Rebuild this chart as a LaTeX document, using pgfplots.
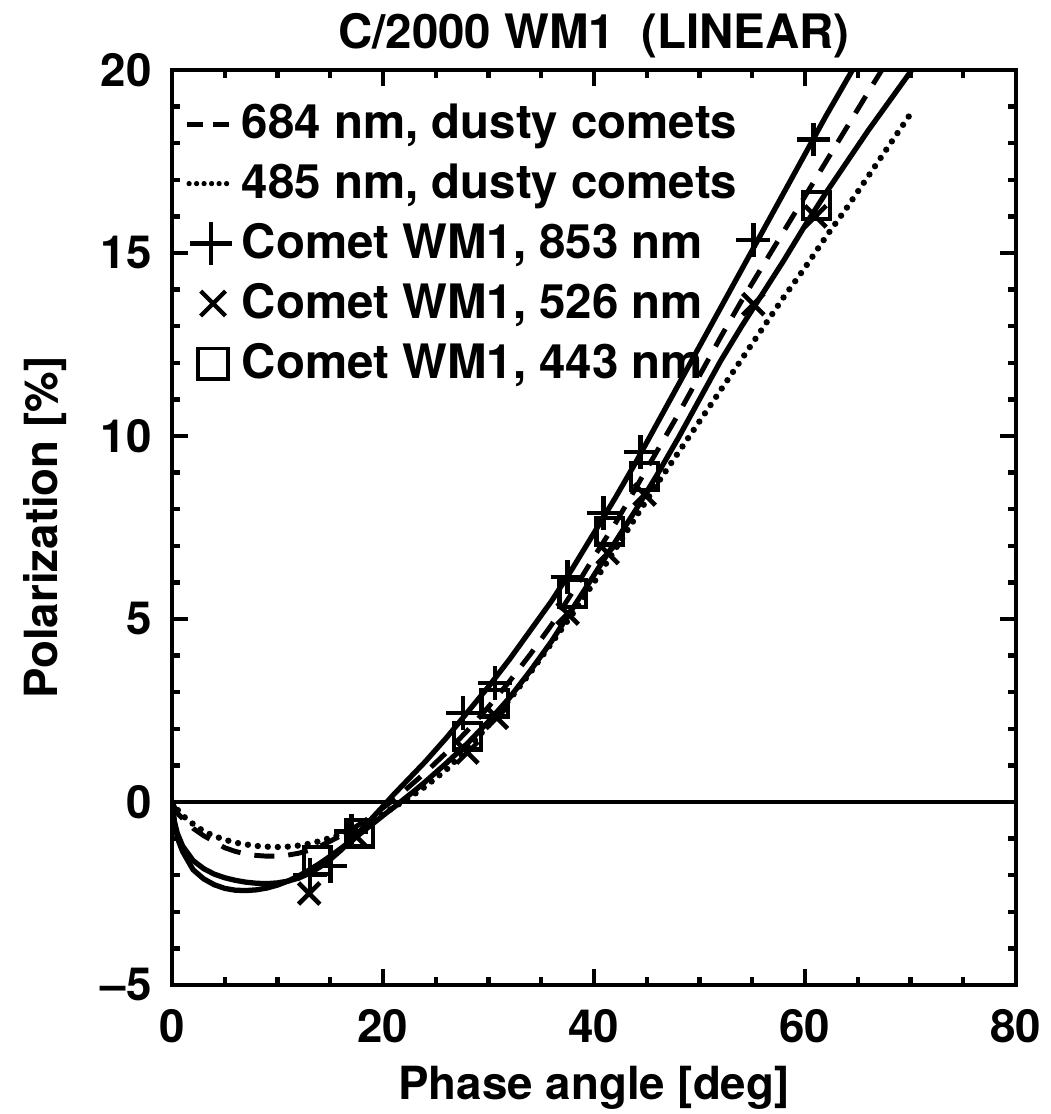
\documentclass[border=0pt]{standalone}
\usepackage{fontspec}
\setmainfont{TeX Gyre Heros}
\usepackage{pgfplots}
\pgfplotsset{compat=1.18}
\begin{document}
\begin{tikzpicture}
\begin{axis}[
  scale only axis,
  width=8.44cm, height=9.15cm,
  xmin=0, xmax=80, ymin=-5, ymax=20,
  xtick={0,20,40,60,80}, ytick={-5,0,5,10,15,20},
  xticklabels={0,20,40,60,80},
  yticklabels={{--5},0,5,10,15,20},
  minor x tick num=3, minor y tick num=4,
  tick align=inside,
  major tick length=0.16cm, minor tick length=0.08cm,
  axis line style={line width=1.4pt},
  every tick/.style={line width=1.2pt, black},
  tick label style={font=\bfseries\fontsize{13}{15}\selectfont},
  xticklabel style={yshift=-0.12cm},
  yticklabel style={xshift=-0.08cm},
  title={C/2000 WM1~~(LINEAR)},
  title style={font=\bfseries\fontsize{13.5}{16}\selectfont, yshift=-6pt},
  xlabel={Phase angle [deg]},
  ylabel={Polarization [\%]},
  label style={font=\bfseries\fontsize{13}{16}\selectfont},
  xlabel style={yshift=0.01cm},
  ylabel style={yshift=0.1cm},
  legend cell align=left,
  legend style={draw=none, fill=none, at={(0.01,0.975)}, anchor=north west,
    font=\bfseries\fontsize{13.5}{16}\selectfont, row sep=1.6pt, inner sep=1pt},
]
% zero line
\addplot[line width=1.4pt, forget plot] coordinates {(0,0) (80,0)};
% dashed 684 nm
\addplot[line width=1.4pt, dash pattern=on 0.2cm off 0.14cm,
  legend image code/.code={\draw[line width=1.4pt, dash pattern=on 0.16cm off 0.1cm] (0cm,0cm) -- (0.45cm,0cm);}] coordinates {
(0,0) (0.5,-0.3) (1,-0.45) (2,-0.72) (3,-0.92) (4,-1.08) (5,-1.25) (6,-1.35) (7,-1.42) (8,-1.46) (9,-1.48) (10,-1.48) (11,-1.45) (12,-1.4) (13,-1.32) (14,-1.21) (15,-1.07) (16,-0.92) (17,-0.75) (18,-0.57) (19,-0.37) (20,-0.16) (21,0.06) (22,0.3) (24,0.8) (26,1.35) (28,1.95) (30,2.6) (32,3.3) (34,4.05) (36,4.85) (38,5.75) (40,6.7) (42,7.6) (44,8.6) (46,9.6) (48,10.6) (50,11.65) (52,12.7) (54,13.7) (56,14.65) (58,15.6) (60,16.55) (62,17.5) (64,18.45) (66,19.4) (67.5,20.1)};
\addlegendentry{684 nm, dusty comets}
% dotted 485 nm
\addplot[line width=1.8pt, line cap=round, dash pattern=on 0pt off 0.1cm,
  legend image code/.code={\draw[line width=1.5pt, line cap=round, dash pattern=on 0pt off 0.075cm] (0.02cm,0cm) -- (0.45cm,0cm);}] coordinates {
(0,0) (0.5,-0.2) (1,-0.37) (2,-0.6) (3,-0.8) (4,-0.93) (5,-1.03) (6,-1.11) (7,-1.16) (8,-1.2) (9,-1.22) (10,-1.23) (11,-1.22) (12,-1.19) (13,-1.14) (14,-1.07) (15,-0.98) (16,-0.88) (17,-0.76) (18,-0.63) (19,-0.48) (20,-0.32) (21,-0.15) (22,0.03) (23,0.22) (24,0.42) (26,0.88) (28,1.45) (30,2.1) (32,2.8) (34,3.55) (36,4.35) (38,5.15) (40,6.0) (42,6.9) (44,7.8) (46,8.7) (48,9.55) (50,10.4) (52,11.25) (54,12.1) (56,12.95) (58,13.8) (60,14.6) (62,15.45) (64,16.25) (66,17.1) (68,17.95) (70,18.8)};
\addlegendentry{485 nm, dusty comets}
% 853 nm points
\addplot[only marks, mark=+, mark size=4.8pt, mark options={line width=1.3pt},
  legend image code/.code={\draw[only marks, mark=+, mark size=6pt, mark options={line width=1.2pt}] plot coordinates {(0.24cm,0cm)};}] coordinates {
(13.1,-2.0) (15.0,-1.75) (17.0,-0.8) (27.6,2.43) (30.6,3.25) (37.5,6.15) (40.9,7.9) (44.4,9.56) (55.1,15.35) (60.8,18.1)};
\addlegendentry{Comet WM1, 853 nm}
% 526 nm points
\addplot[only marks, mark=x, mark size=4.3pt, mark options={line width=1.3pt},
  legend image code/.code={\draw[only marks, mark=x, mark size=5pt, mark options={line width=1.2pt}] plot coordinates {(0.26cm,0cm)};}] coordinates {
(13.0,-2.5) (17.5,-0.95) (28.0,1.35) (30.8,2.3) (37.5,5.15) (41.3,6.8) (44.8,8.4) (55.1,13.6) (61.0,16.0)};
\addlegendentry{Comet WM1, 526 nm}
% 443 nm points
\addplot[only marks, mark=square, mark size=3.8pt, mark options={line width=1.2pt},
  legend image code/.code={\draw[only marks, mark=square, mark size=4.3pt, mark options={line width=1.1pt}] plot coordinates {(0.26cm,0cm)};}] coordinates {
(13.8,-1.6) (17.8,-0.85) (28.0,1.8) (30.6,2.7) (38.0,5.7) (41.5,7.4) (44.8,8.9) (61.1,16.3)};
\addlegendentry{Comet WM1, 443 nm}
% solid fit A (853 nm)
\addplot[line width=1.5pt, forget plot] coordinates {
(0,0) (0.2,-0.5) (0.5,-0.85) (1,-1.2) (2,-1.6) (3,-1.82) (4,-1.97) (5,-2.07) (6,-2.14) (7,-2.19) (8,-2.22) (9,-2.23) (10,-2.21) (11,-2.16) (12,-2.08) (13,-1.95) (14,-1.78) (15,-1.57) (16,-1.32) (17,-1.04) (18,-0.74) (19,-0.43) (20,-0.12) (21,0.2) (22,0.5) (24,1.1) (26,1.75) (28,2.45) (30,3.15) (32,3.9) (34,4.7) (36,5.5) (38,6.4) (40,7.35) (42,8.3) (44,9.3) (46,10.35) (48,11.4) (50,12.45) (52,13.5) (54,14.55) (56,15.6) (58,16.65) (60,17.7) (62,18.75) (64,19.75) (65,20.25)};
% solid fit B (526 nm)
\addplot[line width=1.5pt, forget plot] coordinates {
(0,0) (0.3,-0.7) (0.6,-1.05) (1,-1.35) (2,-1.85) (3,-2.1) (4,-2.26) (5,-2.36) (6,-2.41) (7,-2.42) (8,-2.4) (9,-2.35) (10,-2.27) (11,-2.16) (12,-2.02) (13,-1.86) (14,-1.68) (15,-1.48) (16,-1.27) (17,-1.05) (18,-0.83) (19,-0.6) (20,-0.37) (21,-0.15) (22,0.08) (23,0.31) (24,0.55) (26,1.06) (28,1.6) (30,2.2) (32,2.85) (34,3.6) (36,4.4) (38,5.3) (40,6.2) (42,7.1) (44,8.0) (46,8.95) (48,9.95) (50,11.0) (52,12.05) (54,13.0) (56,13.9) (58,14.8) (60,15.75) (62,16.65) (64,17.5) (66,18.35) (68,19.15) (70,19.95) (71,20.35)};
\end{axis}
\pgfresetboundingbox
\path (-1.72cm,-1.29cm) rectangle (8.78cm,9.85cm);
\end{tikzpicture}
\end{document}
